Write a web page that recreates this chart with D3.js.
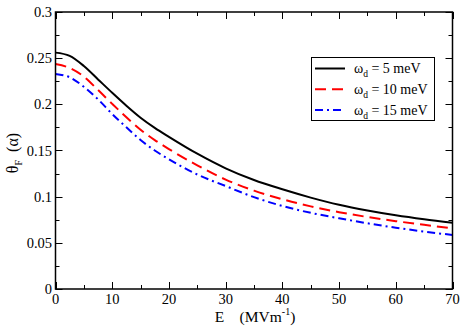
<!DOCTYPE html>
<html><head><meta charset="utf-8">
<script src="https://cdn.jsdelivr.net/npm/d3@7"></script>
<style>body{margin:0;background:#fff}svg{display:block}text{font-family:"Liberation Serif","Times New Roman",serif;fill:#000}</style>
</head><body>
<script>
const E = [0, 2.5, 5, 7.5, 10, 12.5, 15, 17.5, 20, 25, 30, 35, 40, 45, 50, 55, 60, 65, 70];
const theta5 = [0.256, 0.2525, 0.2415, 0.227, 0.2125, 0.1985, 0.1855, 0.1745, 0.1648, 0.1465, 0.1307, 0.118, 0.108, 0.099, 0.0912, 0.085, 0.0798, 0.0755, 0.0718];
const theta10 = [0.2437, 0.2394, 0.230, 0.2155, 0.2005, 0.186, 0.1725, 0.1613, 0.1515, 0.134, 0.1185, 0.1065, 0.0972, 0.0895, 0.0832, 0.078, 0.0735, 0.0695, 0.0657];
const theta15 = [0.2329, 0.2293, 0.219, 0.2054, 0.1895, 0.1751, 0.1614, 0.150, 0.1405, 0.124, 0.1115, 0.0995, 0.0899, 0.0825, 0.0766, 0.0712, 0.0664, 0.0622, 0.0585];
const seriesNames = ["5", "10", "15"];
const xTicks = [0, 10, 20, 30, 40, 50, 60, 70];
const yTicks = [0, 0.05, 0.1, 0.15, 0.2, 0.25, 0.3];
const yTickLabels = ["0", "0.05", "0.1", "0.15", "0.2", "0.25", "0.3"];

const W = 463, H = 331;
const L = 55.5, R = 452.5, T = 12, B = 289;
const svg = d3.select("body").append("svg").attr("width", W).attr("height", H);
const x = d3.scaleLinear().domain([0, 70]).range([L, R]);
const y = d3.scaleLinear().domain([0, 0.3]).range([B, T]);

const series = [
  {vals: theta5, color: "#000", dash: null},
  {vals: theta10, color: "#ff0000", dash: "11,6"},
  {vals: theta15, color: "#0000ff", dash: "8,4,2,4"}
];
const line = d3.line().x(d => x(d[0])).y(d => y(d[1])).curve(d3.curveMonotoneX);
series.forEach(s => {
  svg.append("path").datum(E.map((e, i) => [e, s.vals[i]]))
    .attr("d", line).attr("fill", "none").attr("stroke", s.color)
    .attr("stroke-width", 2).attr("stroke-dasharray", s.dash);
});

// ticks (inward, mirrored)
const xMinor = d3.range(0, 71, 5);
const yMinor = d3.range(0, 0.3001, 0.025);
const tk = svg.append("g").attr("stroke", "#000").attr("stroke-width", 1);
xMinor.forEach(v => {
  const len = (Math.round(v) % 10 === 0) ? 7 : 4;
  const px = Math.round(x(v)) + 0.5;
  tk.append("line").attr("x1", px).attr("x2", px).attr("y1", B).attr("y2", B - len);
  tk.append("line").attr("x1", px).attr("x2", px).attr("y1", T).attr("y2", T + len);
});
yMinor.forEach((v, i) => {
  const len = (i % 2 === 0) ? 7 : 4;
  const py = Math.round(y(v)) + 0.5;
  tk.append("line").attr("x1", L).attr("x2", L + len).attr("y1", py).attr("y2", py);
  tk.append("line").attr("x1", R).attr("x2", R - len).attr("y1", py).attr("y2", py);
});
svg.append("rect").attr("x", L).attr("y", T).attr("width", R - L).attr("height", B - T)
  .attr("fill", "none").attr("stroke", "#000").attr("stroke-width", 1.5);

// tick labels
xTicks.forEach(v => {
  svg.append("text").attr("x", x(v)).attr("y", 304).attr("text-anchor", "middle")
    .attr("font-size", 14.5).text(v);
});
yTicks.forEach((v, i) => {
  svg.append("text").attr("x", 52).attr("y", y(v) + 5).attr("text-anchor", "end")
    .attr("font-size", 14.5).text(yTickLabels[i]);
});

// axis titles
const xt = svg.append("text").attr("x", (L + R) / 2 + 1).attr("y", 322).attr("text-anchor", "middle").attr("font-size", 15.5);
xt.append("tspan").text("E\u00a0\u00a0\u00a0\u00a0(MVm");
xt.append("tspan").attr("font-size", 10).attr("dy", -7).text("-1");
xt.append("tspan").attr("dy", 7).text(")");

const yt = svg.append("text").attr("transform", "translate(18,153) rotate(-90)").attr("text-anchor", "middle").attr("font-size", 16);
yt.append("tspan").text("\u03b8");
yt.append("tspan").attr("font-size", 10).attr("dy", 4).text("F");
yt.append("tspan").attr("dy", -4).text("\u00a0\u00a0(\u03b1)");

// legend
svg.append("rect").attr("x", 311.5).attr("y", 57.5).attr("width", 123).attr("height", 63)
  .attr("fill", "#fff").attr("stroke", "#000").attr("stroke-width", 1);
series.forEach((s, i) => {
  const ly = 68.5 + i * 20.8;
  svg.append("line").attr("x1", 315).attr("x2", 345).attr("y1", ly).attr("y2", ly)
    .attr("stroke", s.color).attr("stroke-width", 2).attr("stroke-dasharray", s.dash);
  const t = svg.append("text").attr("x", 354).attr("y", ly + 4.5).attr("font-size", 14);
  t.append("tspan").text("\u03c9");
  t.append("tspan").attr("font-size", 9.5).attr("dy", 4).text("d");
  t.append("tspan").attr("dy", -4).text(" = " + seriesNames[i] + " meV");
});
</script>
</body></html>
